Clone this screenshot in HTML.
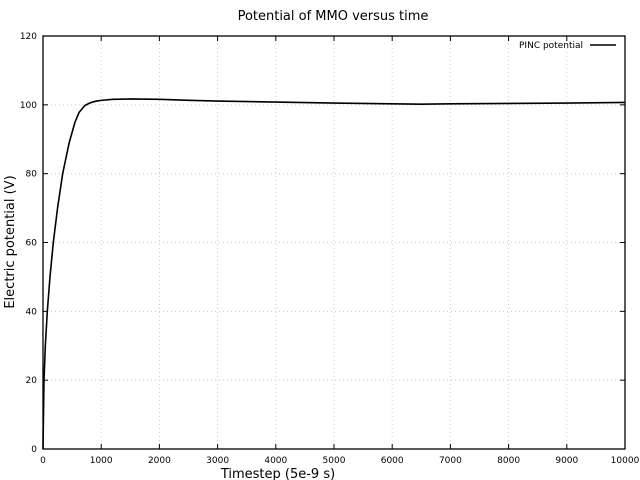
<!DOCTYPE html>
<html><head><meta charset="utf-8"><style>
body{margin:0;background:#fff}
svg{display:block;font-family:"DejaVu Sans","Liberation Sans",sans-serif}
</style></head><body>
<svg id="chart" width="640" height="480">
<text x="333" y="20" font-size="13" text-anchor="middle">Potential of MMO versus time</text>
<g id="grid"></g><g id="ticks"></g>
<text x="278" y="478" font-size="13" text-anchor="middle">Timestep (5e-9 s)</text>
<text x="14" y="242" font-size="13" text-anchor="middle" transform="rotate(-90 14 242)">Electric potential (V)</text>
<path id="line" fill="none" stroke="#000" stroke-width="1.6" stroke-linejoin="round"/>
<rect x="43" y="36" width="582" height="413" fill="none" stroke="#000" stroke-width="1.3"/>
<g>
<text x="583" y="48" font-size="9" text-anchor="end">PINC potential</text>
<line x1="590" y1="45" x2="616" y2="45" stroke="#000" stroke-width="1.5"/>
</g>
</svg>
<script>
const xTicks=[0,1000,2000,3000,4000,5000,6000,7000,8000,9000,10000];
const yTicks=[0,20,40,60,80,100,120];
const steps=[0,8,17,40,74,120,177,250,338,400,450,500,550,620,720,800,850,920,1000,1200,1500,2000,2500,3000,4000,5000,6000,6500,7000,8000,9000,10000];
const potential=[0,10,20,30,40,50,60,70,80,85,89,92,95,97.8,99.8,100.5,100.8,101.1,101.3,101.6,101.7,101.6,101.3,101.1,100.8,100.5,100.3,100.2,100.3,100.4,100.5,100.7];
const X=v=>43+v/10000*582, Y=v=>449-v/120*413;
const NS="http://www.w3.org/2000/svg";
const grid=document.getElementById('grid'), tk=document.getElementById('ticks');
function mk(p,tag,a){const e=document.createElementNS(NS,tag);for(const k in a)e.setAttribute(k,a[k]);p.appendChild(e);return e;}
xTicks.forEach(v=>{
 const x=X(v);
 if(v>0&&v<10000){const g=mk(grid,'line',{x1:x,x2:x,y1:36,y2:449,stroke:'#ccc','stroke-dasharray':'1,3'});
 
 }
 mk(tk,'line',{x1:x,x2:x,y1:449,y2:444,stroke:'#000'});
 mk(tk,'line',{x1:x,x2:x,y1:36,y2:41,stroke:'#000'});
 const t=mk(tk,'text',{x:x,y:463,'font-size':9,'text-anchor':'middle'});t.textContent=v;
 
 
});
yTicks.forEach(v=>{
 const y=Y(v);
 if(v>0&&v<120){const g=mk(grid,'line',{x1:43,x2:625,y1:y,y2:y,stroke:'#ccc','stroke-dasharray':'1,3'});
 
 }
 mk(tk,'line',{x1:43,x2:48,y1:y,y2:y,stroke:'#000'});
 mk(tk,'line',{x1:620,x2:625,y1:y,y2:y,stroke:'#000'});
 const t=mk(tk,'text',{x:37,y:y+3,'font-size':9,'text-anchor':'end'});t.textContent=v;
 
 
});
document.getElementById('line').setAttribute('d',steps.map((s,i)=>(i?'L':'M')+X(s).toFixed(2)+','+Y(potential[i]).toFixed(2)).join(''));
</script>
</body></html>
